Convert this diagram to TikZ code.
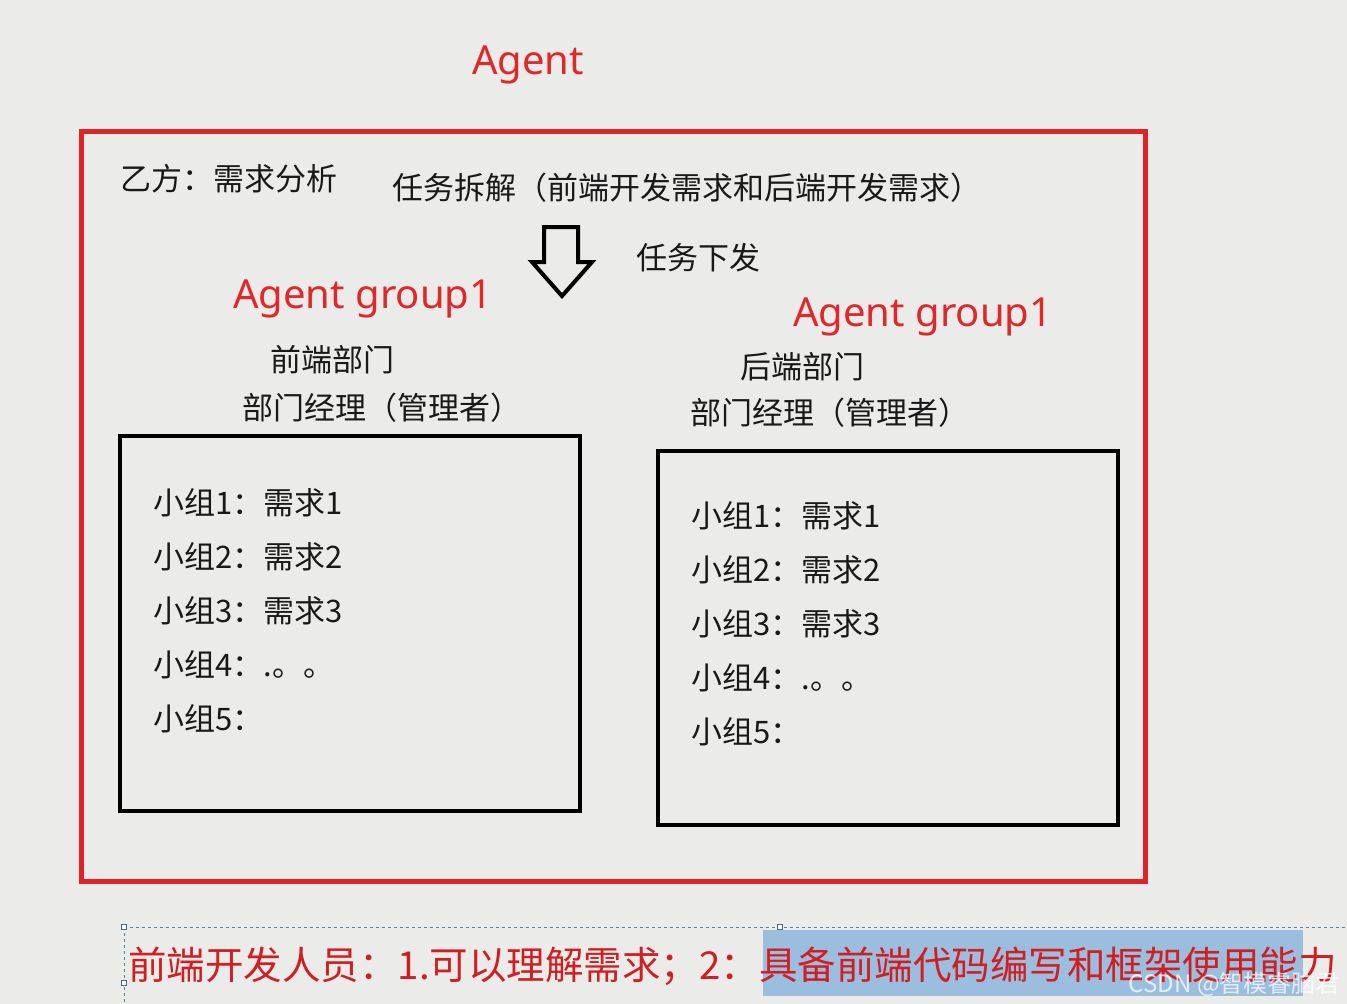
\documentclass[tikz,border=0pt]{standalone}
\usepackage{fontspec}
\setmainfont{Noto Sans CJK SC}
\newfontfamily\latfont{Noto Sans}
\definecolor{bgc}{HTML}{EBECEA}
\definecolor{redc}{HTML}{DE2426}
\definecolor{redtxt}{HTML}{E0282A}
\definecolor{botred}{HTML}{D01F22}
\definecolor{hl}{HTML}{9BBEDF}
\definecolor{dashc}{HTML}{5F7F9A}
\tikzset{
  txt/.style={inner sep=0pt, anchor=base west, font=\fontsize{31}{36}\selectfont, text=black!90},
  redlat/.style={inner sep=0pt, anchor=base west, font=\latfont\fontsize{40}{44}\selectfont, text=redtxt},
  frame/.style={draw=redc, line width=5pt, inner sep=0pt, outer sep=0pt, anchor=north west},
  blkbox/.style={draw=black, line width=4.5pt, inner sep=0pt, outer sep=0pt, anchor=north west},
  handle/.style={draw=dashc!80!black, fill=white, line width=0.8pt, minimum size=5pt, inner sep=0pt},
}
\begin{document}
\begin{tikzpicture}[x=1pt,y=-1pt]
\useasboundingbox (0,0) rectangle (1347,1004);
\fill[bgc] (0,0) rectangle (1347,1004);

% title
\node[redlat, anchor=base] (agent) at (528,74) {Agent};

% outer red frame
\node[frame, minimum width=1064pt, minimum height=750pt] (outer) at (81,131) {};

% top texts
\node[txt] (yifang) at (120,190) {乙方：需求分析};
\node[txt] (chaijie) at (392,199) {任务拆解（前端开发需求和后端开发需求）};
\node[txt] (xiafa) at (636,269) {任务下发};

% hollow down arrow
\draw[black, line width=4pt, line join=miter] (544,227) -- (578,227) -- (578,262) -- (592,262) -- (562,296) -- (532,262) -- (544,262) -- cycle;
\coordinate (arrowtip) at (562,296);

% left group
\node[redlat] (grp1) at (233,308) {Agent group1};
\node[txt] (qd) at (270,371) {前端部门};
\node[txt] (mgr1) at (242,419) {部门经理（管理者）};
\node[blkbox, minimum width=460pt, minimum height=375pt] (box1) at (120,436) {};
\node[txt] (l1) at (153,514) {小组1：需求1};
\node[txt] (l2) at (153,568) {小组2：需求2};
\node[txt] (l3) at (153,622) {小组3：需求3};
\node[txt] (l4) at (153,676) {小组4：.。。};
\node[txt] (l5) at (153,730) {小组5：};

% right group
\node[redlat] (grp2) at (793,326) {Agent group1};
\node[txt] (hd) at (740,378) {后端部门};
\node[txt] (mgr2) at (690,424) {部门经理（管理者）};
\node[blkbox, minimum width=460pt, minimum height=374pt] (box2) at (658,451) {};
\node[txt] (r1) at (691,527) {小组1：需求1};
\node[txt] (r2) at (691,581) {小组2：需求2};
\node[txt] (r3) at (691,635) {小组3：需求3};
\node[txt] (r4) at (691,689) {小组4：.。。};
\node[txt] (r5) at (691,743) {小组5：};

% bottom selected text box
\fill[hl] (763,930) rectangle (1303,996);
\draw[dashc, dash pattern=on 3pt off 3pt, line width=1pt] (124,927) -- (1347,927);
\draw[dashc, dash pattern=on 3pt off 3pt, line width=1pt] (124,927) -- (124,1004);
\node[handle] (h1) at (124,927) {};
\node[handle] (h2) at (780,927) {};
\node[handle] (h3) at (124,983) {};
\node[inner sep=0pt, anchor=base west, font=\fontsize{38.5}{44}\selectfont, text=botred] (bottom) at (128,979) {前端开发人员：1.可以理解需求；2：具备前端代码编写和框架使用能力};
\node[inner sep=0pt, anchor=base east, font=\fontsize{24}{28}\selectfont, text=white, opacity=0.75] (wm) at (1340,992) {CSDN @智模睿脑君};
\end{tikzpicture}
\end{document}
